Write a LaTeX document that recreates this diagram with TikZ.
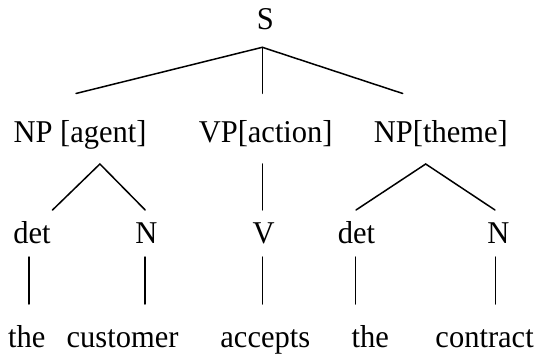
\documentclass[tikz,border=0pt]{standalone}
\usepackage{fontspec}
\setmainfont{Liberation Serif}
\newcommand{\tall}[1]{\scalebox{1}[1.04]{#1}}
\begin{document}
\begin{tikzpicture}[x=1pt,y=-1pt,
  lbl/.style={anchor=base,inner sep=0pt,font=\fontsize{30.5}{36}\selectfont},
  edge/.style={line width=1.5pt,line cap=round}]
\useasboundingbox (0,0) rectangle (538,358);
% labels
\node[lbl] (S) at (265.3,29.5) {\tall{S}};
\node[lbl] (np1) at (80,143) {\tall{NP [agent]}};
\node[lbl] (vp) at (265.7,143) {\tall{VP[action]}};
\node[lbl] (np2) at (440.8,143) {\tall{NP[theme]}};
\node[lbl] (det1) at (32,243.3) {\tall{det}};
\node[lbl] (n1) at (146.3,243.3) {\tall{N}};
\node[lbl] (v) at (263.7,243.3) {\tall{V}};
\node[lbl] (det2) at (356.4,243.3) {\tall{det}};
\node[lbl] (n2) at (498.5,243.3) {\tall{N}};
\node[lbl] (w1) at (26.8,347.8) {\tall{the}};
\node[lbl] (w2) at (122.6,347.8) {\tall{customer}};
\node[lbl] (w3) at (265.3,347.8) {\tall{accepts}};
\node[lbl] (w4) at (370.3,347.8) {\tall{the}};
\node[lbl] (w5) at (484.6,347.8) {\tall{contract}};
% connector end points
\coordinate (Sb) at (262.3,47.3);
\coordinate (np1t) at (76,93.5);
\coordinate (vpt) at (262.3,93.3);
\coordinate (np2t) at (402.7,93.5);
\coordinate (np1b) at (99.9,164);
\coordinate (vpb) at (262.3,164);
\coordinate (np2b) at (425.7,164);
\coordinate (det1t) at (52.5,210);
\coordinate (n1t) at (145.2,210);
\coordinate (vt) at (262.3,210);
\coordinate (det2t) at (356,210);
\coordinate (n2t) at (495,210);
\coordinate (det1b) at (28.8,257);
\coordinate (n1b) at (145.2,257);
\coordinate (vb) at (262.3,257);
\coordinate (det2b) at (355.4,257);
\coordinate (n2b) at (495.4,257);
\coordinate (w1t) at (28.8,304);
\coordinate (w2t) at (145.2,304);
\coordinate (w3t) at (262.3,304);
\coordinate (w4t) at (355.4,304);
\coordinate (w5t) at (495.4,304);
% connectors
\draw[edge] (np1t) -- (Sb) -- (np2t);
\draw[edge] (Sb) -- (vpt);
\draw[edge] (det1t) -- (np1b) -- (n1t);
\draw[edge] (vpb) -- (vt);
\draw[edge] (det2t) -- (np2b) -- (n2t);
\draw[edge] (det1b) -- (w1t);
\draw[edge] (n1b) -- (w2t);
\draw[edge] (vb) -- (w3t);
\draw[edge] (det2b) -- (w4t);
\draw[edge] (n2b) -- (w5t);
\end{tikzpicture}
\end{document}
